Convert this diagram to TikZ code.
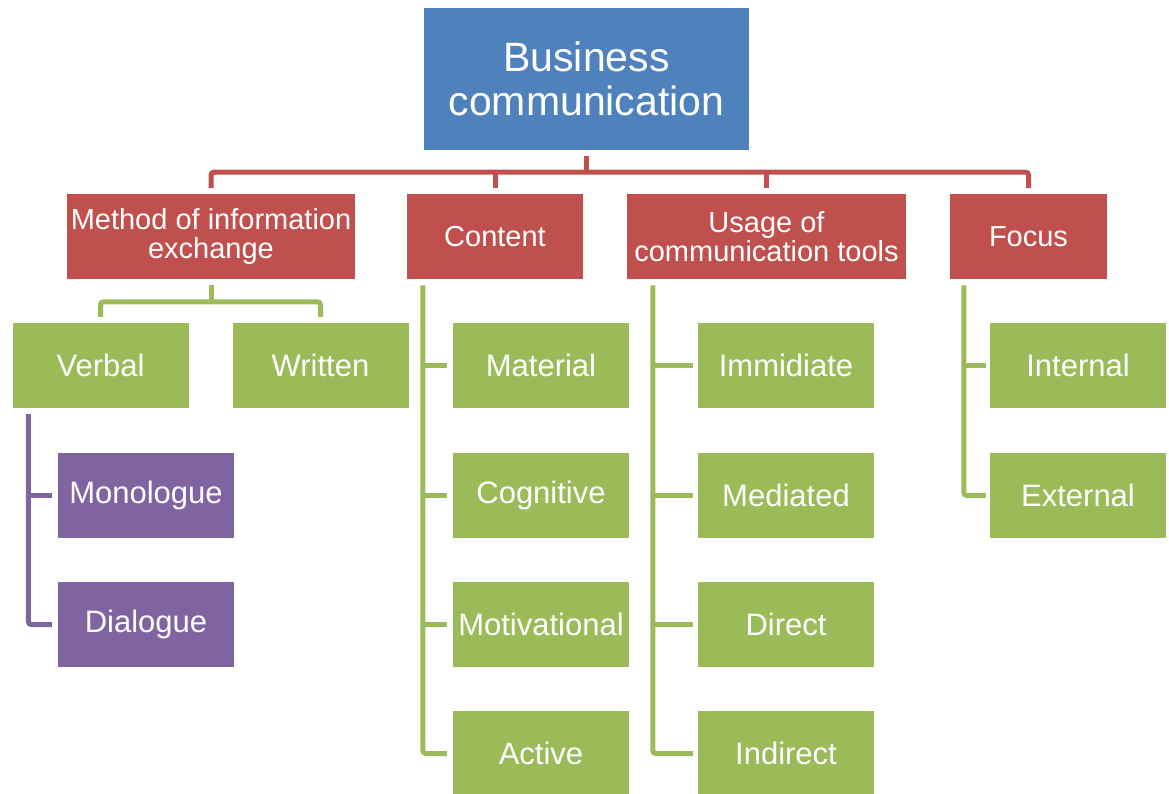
\documentclass[tikz,border=0pt]{standalone}
\usepackage{fontspec}
\setmainfont{Liberation Sans}
\usetikzlibrary{calc}
\definecolor{cblue}{HTML}{4F81BD}
\definecolor{cred}{HTML}{C0504D}
\definecolor{cgreen}{HTML}{9BBB59}
\definecolor{cpurple}{HTML}{8064A2}
\tikzset{
  basebox/.style={rectangle, inner sep=0pt, text=white, align=center, anchor=center},
  topbox/.style={basebox, fill=cblue, minimum width=325pt, minimum height=142pt, font=\fontsize{41}{44}\selectfont},
  catbox/.style={basebox, fill=cred, minimum height=85pt, font=\fontsize{29}{29}\selectfont},
  leafbox/.style={basebox, fill=cgreen, minimum width=176pt, minimum height=85pt, font=\fontsize{31}{33}\selectfont},
  subbox/.style={basebox, fill=cpurple, minimum width=176pt, minimum height=85pt, font=\fontsize{31}{33}\selectfont},
  redline/.style={draw=cred, line width=5pt, rounded corners=3pt},
  greenline/.style={draw=cgreen, line width=5pt, rounded corners=3pt},
  purpleline/.style={draw=cpurple, line width=5pt, rounded corners=3pt}
}
\begin{document}
\begin{tikzpicture}[x=1pt, y=-1pt]
\useasboundingbox (0,0) rectangle (1169,794);
% top
\node[topbox] (top) at (586.5,79) {Business\\communication};
% categories
\node[catbox, minimum width=288pt] (method) at (211,236.75) {Method of information\\exchange};
\node[catbox, minimum width=176pt] (content) at (495,236.75) {Content};
\node[catbox, minimum width=279pt] (usage) at (766.5,236.75) {Usage of\\communication tools};
\node[catbox, minimum width=157pt] (focus) at (1028.5,236.75) {Focus};
% method children
\node[leafbox] (verbal) at (100.5,365.5) {Verbal};
\node[leafbox] (written) at (320.5,365.5) {Written};
\node[subbox] (monologue) at (146,495.5) {Monologue};
\node[subbox] (dialogue) at (146,624.5) {Dialogue};
% content children
\node[leafbox] (material) at (541,365.5) {Material};
\node[leafbox] (cognitive) at (541,495.5) {Cognitive};
\node[leafbox] (motivational) at (541,624.5) {Motivational};
\node[leafbox] (active) at (541,753.5) {Active};
% usage children
\node[leafbox] (immidiate) at (786,365.5) {Immidiate};
\node[leafbox] (mediated) at (786,495.5) {Mediated};
\node[leafbox] (direct) at (786,624.5) {Direct};
\node[leafbox] (indirect) at (786,753.5) {Indirect};
% focus children
\node[leafbox] (internal) at (1078,365.5) {Internal};
\node[leafbox] (external) at (1078,495.5) {External};

% red connectors
\draw[redline] ($(top.south)+(0,6)$) -- ($(top.south)+(0,22)$);
\draw[redline] ($(method.north)+(0,-6)$) -- ($(method.north)+(0,-22)$) -- ($(focus.north)+(0,-22)$) -- ($(focus.north)+(0,-6)$);
\draw[redline] ($(content.north)+(0,-6)$) -- ($(content.north)+(0,-22)$);
\draw[redline] ($(usage.north)+(0,-6)$) -- ($(usage.north)+(0,-22)$);

% method -> verbal / written
\draw[greenline] ($(method.south)+(0,6)$) -- ($(method.south)+(0,22)$);
\draw[greenline] ($(verbal.north)+(0,-6)$) -- ($(verbal.north)+(0,-21)$) -- ($(written.north)+(0,-21)$) -- ($(written.north)+(0,-6)$);

% verbal -> monologue / dialogue
\draw[purpleline] ($(verbal.south west)+(16,6)$) |- ($(dialogue.west)+(-6,0)$);
\draw[purpleline] ($(monologue.west)+(-6,0)$) -- ($(monologue.west)+(-30,0)$);

% content spine
\draw[greenline] ($(content.south west)+(16,6)$) |- ($(active.west)+(-6,0)$);
\draw[greenline] ($(material.west)+(-6,0)$) -- ($(material.west)+(-30,0)$);
\draw[greenline] ($(cognitive.west)+(-6,0)$) -- ($(cognitive.west)+(-30,0)$);
\draw[greenline] ($(motivational.west)+(-6,0)$) -- ($(motivational.west)+(-30,0)$);

% usage spine
\draw[greenline] ($(usage.south west)+(26,6)$) |- ($(indirect.west)+(-5,0)$);
\draw[greenline] ($(immidiate.west)+(-5,0)$) -- ($(immidiate.west)+(-45,0)$);
\draw[greenline] ($(mediated.west)+(-5,0)$) -- ($(mediated.west)+(-45,0)$);
\draw[greenline] ($(direct.west)+(-5,0)$) -- ($(direct.west)+(-45,0)$);

% focus spine
\draw[greenline] ($(focus.south west)+(14,6)$) |- ($(external.west)+(-4,0)$);
\draw[greenline] ($(internal.west)+(-4,0)$) -- ($(internal.west)+(-26,0)$);
\end{tikzpicture}
\end{document}
